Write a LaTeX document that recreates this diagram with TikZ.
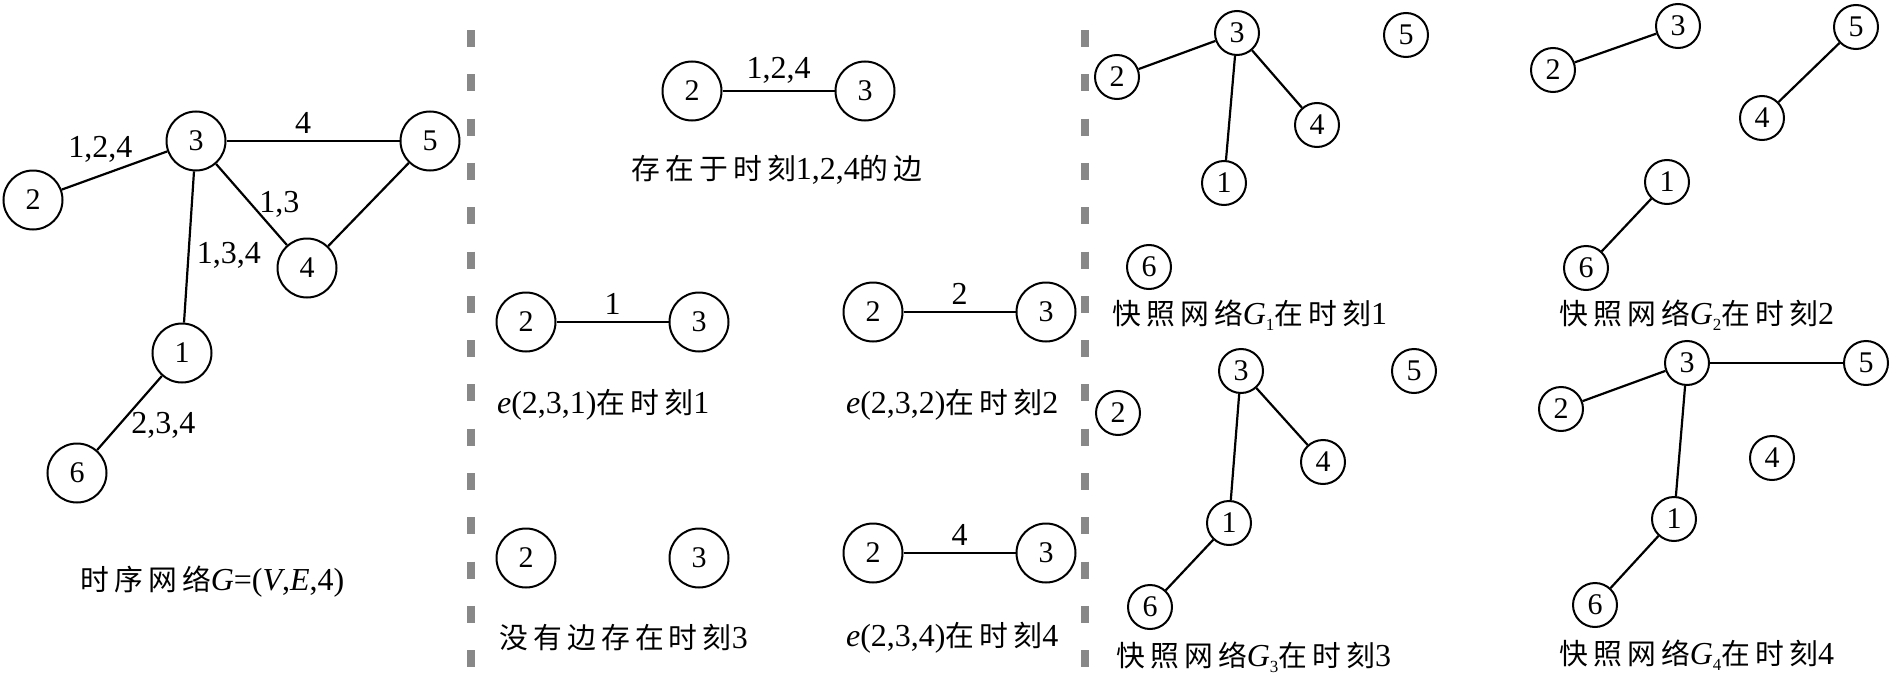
\documentclass[tikz,border=0pt]{standalone}
\usepackage{fontspec}
\setmainfont{Liberation Serif}
\newfontfamily\cjk[Scale=0.9,LetterSpace=18]{Noto Sans CJK SC}
\usetikzlibrary{positioning}
\definecolor{divgray}{RGB}{136,136,136}
\tikzstyle{vbig}=[draw, circle, line width=1pt, minimum size=29.5pt, inner sep=0pt]
\tikzstyle{vsmall}=[vbig, minimum size=22pt]
\tikzstyle{edge}=[line width=1.1pt]
\tikzstyle{divider}=[line width=4.3pt, divgray, dash pattern=on 8.5pt off 13.65pt]
\tikzstyle{captext}=[font=\fontsize{16pt}{19pt}\selectfont]
\newcommand{\lowsub}[1]{\raisebox{-0.4ex}{\fontsize{8.5pt}{8.5pt}\selectfont #1}}

\begin{document}
\begin{tikzpicture}[x=0.5pt,y=-0.5pt,node distance=56pt,font=\fontsize{15pt}{18pt}\selectfont]
\useasboundingbox (0,0) rectangle (1892,680);
% temporal network
\node (L3) [vbig] at (196,141) {3};
\node (L5) [vbig] at (430,141) {5};
\node (L2) [vbig] at (33,200) {2};
\node (L4) [vbig] at (307,268) {4};
\node (L1) [vbig] at (182,353) {1};
\node (L6) [vbig] at (77,473) {6};
\draw[edge] (L2)--node[captext,above,xshift=-7pt]{1,2,4}(L3);
\draw[edge] (L3)--node[captext,above,xshift=-5pt]{4}(L5);
\draw[edge] (L3)--node[captext,right]{1,3}(L4);
\draw[edge] (L4)--(L5);
\draw[edge] (L3)--node[captext,right,yshift=-4pt]{1,3,4}(L1);
\draw[edge] (L1)--node[captext,right,xshift=-3pt,yshift=-6pt]{2,3,4}(L6);
\node (capL) [captext,anchor=west] at (73,582) {{\cjk 时序网络}\textit{G}=(\textit{V},\textit{E},4)};
% dividers
\coordinate (d1top) at (471,30);
\coordinate (d1bot) at (471,667);
\coordinate (d2top) at (1085,30);
\coordinate (d2bot) at (1085,667);
\draw[divider] (d1top)--(d1bot);
\draw[divider] (d2top)--(d2bot);
% edge 2-3 over time
\node (T2) [vbig] at (692,91) {2};
\node (T3) [vbig,right=of T2] {3};
\draw[edge] (T2)--node[captext,above]{1,2,4}(T3);
\node (capT) [captext] at (777,170) {{\cjk 存在于时刻}1,2,4{\cjk 的边}};
\node (A2) [vbig] at (526,322) {2};
\node (A3) [vbig,right=of A2] {3};
\draw[edge] (A2)--node[captext,above]{1}(A3);
\node (capA) [captext,anchor=west] at (490,405) {\textit{e}(2,3,1){\cjk 在时刻}1};
\node (B2) [vbig] at (873,312) {2};
\node (B3) [vbig,right=of B2] {3};
\draw[edge] (B2)--node[captext,above]{2}(B3);
\node (capB) [captext,anchor=west] at (839,405) {\textit{e}(2,3,2){\cjk 在时刻}2};
\node (C2) [vbig] at (526,558) {2};
\node (C3) [vbig,right=of C2] {3};
\node (capC) [captext,anchor=west] at (492,638) {{\cjk 没有边存在时刻}3};
\node (D2) [vbig] at (873,553) {2};
\node (D3) [vbig,right=of D2] {3};
\draw[edge] (D2)--node[captext,above]{4}(D3);
\node (capD) [captext,anchor=west] at (839,638) {\textit{e}(2,3,4){\cjk 在时刻}4};
% snapshot G1
\node (P3) [vsmall] at (1237,33) {3};
\node (P5) [vsmall] at (1406,35) {5};
\node (P2) [vsmall] at (1117,77) {2};
\node (P4) [vsmall] at (1317,125) {4};
\node (P1) [vsmall] at (1224,183) {1};
\node (P6) [vsmall] at (1149,267) {6};
\draw[edge] (P2)--(P3);
\draw[edge] (P3)--(P4);
\draw[edge] (P3)--(P1);
\node (capP) [captext,anchor=west] at (1105,315) {{\cjk 快照网络}\textit{G}\lowsub{1}{\cjk 在时刻}1};
% snapshot G2
\node (Q3) [vsmall] at (1678,26) {3};
\node (Q5) [vsmall] at (1856,27) {5};
\node (Q2) [vsmall] at (1553,70) {2};
\node (Q4) [vsmall] at (1762,118) {4};
\node (Q1) [vsmall] at (1667,182) {1};
\node (Q6) [vsmall] at (1586,268) {6};
\draw[edge] (Q2)--(Q3);
\draw[edge] (Q4)--(Q5);
\draw[edge] (Q1)--(Q6);
\node (capQ) [captext,anchor=west] at (1552,315) {{\cjk 快照网络}\textit{G}\lowsub{2}{\cjk 在时刻}2};
% snapshot G3
\node (R3) [vsmall] at (1241,371) {3};
\node (R5) [vsmall] at (1414,371) {5};
\node (R2) [vsmall] at (1118,413) {2};
\node (R4) [vsmall] at (1323,462) {4};
\node (R1) [vsmall] at (1229,523) {1};
\node (R6) [vsmall] at (1150,607) {6};
\draw[edge] (R3)--(R1);
\draw[edge] (R3)--(R4);
\draw[edge] (R1)--(R6);
\node (capR) [captext,anchor=west] at (1109,657) {{\cjk 快照网络}\textit{G}\lowsub{3}{\cjk 在时刻}3};
% snapshot G4
\node (S3) [vsmall] at (1687,363) {3};
\node (S5) [vsmall] at (1866,363) {5};
\node (S2) [vsmall] at (1561,409) {2};
\node (S4) [vsmall] at (1772,458) {4};
\node (S1) [vsmall] at (1674,519) {1};
\node (S6) [vsmall] at (1595,605) {6};
\draw[edge] (S2)--(S3);
\draw[edge] (S3)--(S5);
\draw[edge] (S3)--(S1);
\draw[edge] (S1)--(S6);
\node (capS) [captext,anchor=west] at (1552,655) {{\cjk 快照网络}\textit{G}\lowsub{4}{\cjk 在时刻}4};
\end{tikzpicture}
\end{document}
